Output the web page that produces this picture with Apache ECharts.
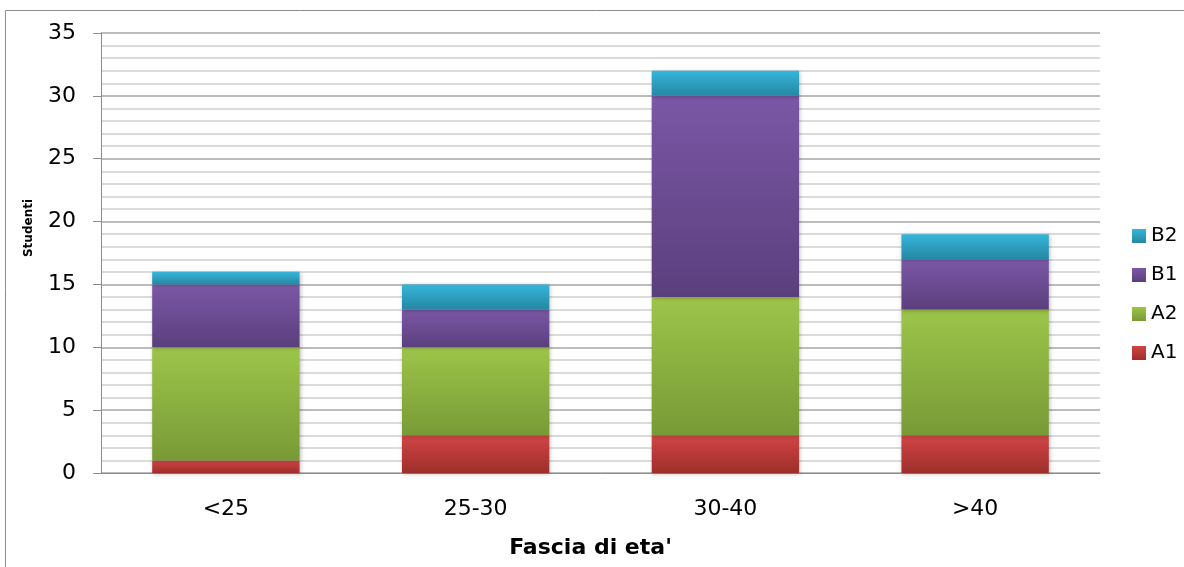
<!DOCTYPE html>
<html>
<head>
<meta charset="utf-8">
<script src="https://cdn.jsdelivr.net/npm/echarts@6/dist/echarts.min.js"></script>
<style>
  html, body { margin: 0; padding: 0; background: #fff; }
  #main { width: 1184px; height: 567px; }
</style>
</head>
<body>
<div id="main"></div>
<script>
// dati
var categories = ['<25', '25-30', '30-40', '>40'];
var a1 = [1, 3, 3, 3];
var a2 = [9, 7, 11, 10];
var b1 = [5, 3, 16, 4];
var b2 = [1, 2, 2, 2];
var yTicks = [0, 5, 10, 15, 20, 25, 30, 35];

var font = 'DejaVu Sans';

function grad(top, bottom) {
  return new echarts.graphic.LinearGradient(0, 0, 0, 1, [
    { offset: 0, color: top },
    { offset: 1, color: bottom }
  ]);
}

function serie(name, data, top, bottom) {
  return {
    name: name,
    type: 'bar',
    stack: 'tot',
    data: data,
    barCategoryGap: '41%',
    itemStyle: {
      color: grad(top, bottom),
      shadowColor: 'rgba(0,0,0,0.25)',
      shadowBlur: 4,
      shadowOffsetX: 1,
      shadowOffsetY: 1
    }
  };
}

var myChart = echarts.init(document.getElementById('main'));
var option = {
  animation: false,
  backgroundColor: '#fff',
  graphic: [{
    type: 'rect',
    shape: { x: 5.5, y: 10.5, width: 1200, height: 600 },
    style: { fill: 'none', stroke: '#8c8c8c', lineWidth: 1 },
    z: -10
  }],
  grid: { left: 101, right: 84, top: 33, bottom: 94 },
  legend: {
    orient: 'vertical',
    left: 1127,
    top: 221,
    icon: 'rect',
    itemWidth: 14,
    itemHeight: 14,
    itemGap: 19,
    data: ['B2', 'B1', 'A2', 'A1'],
    textStyle: { fontFamily: font, fontSize: 20, color: '#000', padding: [0, 0, 0, 0] }
  },
  xAxis: {
    type: 'category',
    data: categories,
    name: "Fascia di eta'",
    nameLocation: 'middle',
    nameGap: 64,
    nameTextStyle: { fontFamily: font, fontSize: 22, fontWeight: 'bold', color: '#000', padding: [0, 20, 0, 0] },
    axisLine: { lineStyle: { color: '#8c8c8c', width: 1 } },
    axisTick: { show: false },
    axisLabel: { fontFamily: font, fontSize: 22, color: '#000', margin: 25 }
  },
  yAxis: {
    type: 'value',
    min: yTicks[0],
    max: yTicks[yTicks.length - 1],
    interval: 5,
    name: 'Studenti',
    nameLocation: 'middle',
    nameGap: 66,
    nameTextStyle: { fontFamily: font, fontSize: 12, fontWeight: 'bold', color: '#000', padding: [0, 0, 0, 50] },
    axisLine: { show: true, lineStyle: { color: '#8c8c8c', width: 1 } },
    axisTick: { show: true, length: 8, lineStyle: { color: '#8c8c8c' } },
    axisLabel: { fontFamily: font, fontSize: 22, color: '#000', margin: 25 },
    splitLine: { lineStyle: { color: '#a6a6a6', width: 1.5 } },
    minorTick: { show: false, splitNumber: 5 },
    minorSplitLine: { show: true, lineStyle: { color: '#cfcfcf', width: 1.5 } }
  },
  series: [
    serie('A1', a1, '#d04545', '#9e2e2b'),
    serie('A2', a2, '#9dc54a', '#789a36'),
    serie('B1', b1, '#7b58a6', '#5a3f7d'),
    serie('B2', b2, '#36b6da', '#2587a3')
  ]
};
myChart.setOption(option);
</script>
</body>
</html>
